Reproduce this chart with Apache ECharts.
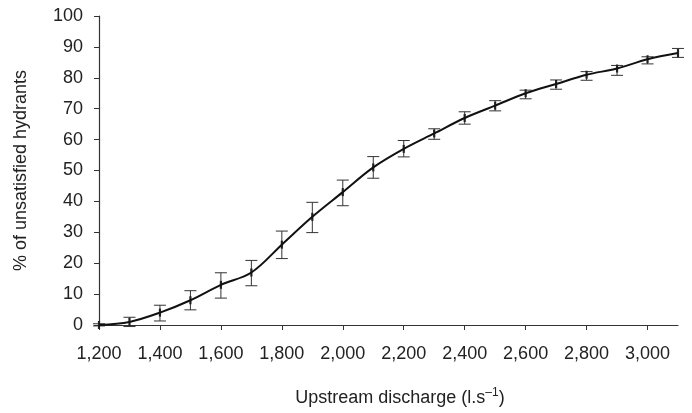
<!DOCTYPE html>
<html>
<head>
<meta charset="utf-8">
<script src="https://cdn.jsdelivr.net/npm/echarts@6/dist/echarts.min.js"></script>
<style>
  html, body { margin: 0; padding: 0; background: #fff; }
  #chart { width: 692px; height: 413px; }
</style>
</head>
<body>
<div id="chart"></div>
<script>
// discharge values (l/s)
const discharge = [1200, 1300, 1400, 1500, 1600, 1700, 1800, 1900, 2000, 2100,
    2200, 2300, 2400, 2500, 2600, 2700, 2800, 2900, 3000, 3100];
// mean % of unsatisfied hydrants
const meanPct = [0, 1, 4, 8, 13, 17, 26, 35, 43, 51,
    57, 62, 67, 71, 75, 78, 81, 83, 86, 88];
// error bar bounds
const lowPct = [-0.3, -0.5, 1.3, 4.9, 8.7, 12.7, 21.5, 29.9, 38.6, 47.5,
    54.4, 60.1, 65, 69.3, 73.2, 76.3, 79.2, 80.8, 84.5, 86.6];
const highPct = [0.4, 2.5, 6.4, 11.1, 16.9, 20.9, 30.4, 39.7, 46.9, 54.5,
    59.7, 63.5, 69, 72.6, 76, 79.3, 82, 84, 86.8, 89.5];
const xTicks = [1200, 1400, 1600, 1800, 2000, 2200, 2400, 2600, 2800, 3000];

const font = 'Liberation Sans, Arial, sans-serif';
const textColor = '#222';

const lineData = discharge.map((d, i) => [d, meanPct[i]]);
const errData = discharge.map((d, i) => [d, lowPct[i], highPct[i], meanPct[i]]);

const chart = echarts.init(document.getElementById('chart'));
chart.setOption({
    animation: false,
    grid: { left: 99, right: 14, top: 16, bottom: 88 },
    xAxis: {
        type: 'value',
        min: 1200,
        max: 3100,
        interval: 200,
        name: '{a|Upstream discharge (l.s}{s|–1}{a|)}',
        nameLocation: 'middle',
        nameGap: 62,
        nameTextStyle: {
            padding: [0, 0, 0, 23],
            rich: {
                a: { fontSize: 18, fontFamily: font, color: textColor, lineHeight: 22 },
                s: { fontSize: 12, fontFamily: font, color: textColor, lineHeight: 22, verticalAlign: 'top', padding: [0, 0, 8, 0] },
            },
        },
        axisLine: { lineStyle: { color: '#333', width: 1.2 } },
        axisTick: { customValues: xTicks, length: 5, lineStyle: { color: '#333' } },
        axisLabel: {
            customValues: xTicks,
            margin: 20,
            fontSize: 18,
            fontFamily: font,
            color: textColor,
            formatter: (v) => v.toLocaleString('en-US'),
        },
        splitLine: { show: false },
    },
    yAxis: {
        type: 'value',
        min: 0,
        max: 100,
        interval: 10,
        name: '% of unsatisfied hydrants',
        nameLocation: 'middle',
        nameGap: 69,
        nameTextStyle: { fontSize: 18, fontFamily: font, color: textColor },
        axisLine: { show: true, lineStyle: { color: '#333', width: 1.2 } },
        axisTick: { show: true, length: 5, lineStyle: { color: '#333' } },
        axisLabel: { margin: 16, fontSize: 18, fontFamily: font, color: textColor },
        splitLine: { show: false },
    },
    series: [
        {
            type: 'custom',
            data: errData,
            z: 3,
            renderItem: function (params, api) {
                const x = api.value(0);
                const top = api.coord([x, api.value(2)]);
                const bot = api.coord([x, api.value(1)]);
                const mid = api.coord([x, api.value(3)]);
                const w = 6;
                const st = { stroke: '#333', lineWidth: 1 };
                return {
                    type: 'group',
                    children: [
                        { type: 'line', shape: { x1: top[0], y1: top[1], x2: bot[0], y2: bot[1] }, style: st },
                        { type: 'line', shape: { x1: top[0] - w, y1: top[1], x2: top[0] + w, y2: top[1] }, style: st },
                        { type: 'line', shape: { x1: bot[0] - w, y1: bot[1], x2: bot[0] + w, y2: bot[1] }, style: st },
                        { type: 'line', shape: { x1: mid[0], y1: mid[1] - 4, x2: mid[0], y2: mid[1] + 4 }, style: { stroke: '#222', lineWidth: 2.2 } },
                    ],
                };
            },
        },
        {
            type: 'line',
            data: lineData,
            smooth: 0.35,
            showSymbol: false,
            z: 4,
            lineStyle: { color: '#111', width: 2 },
        },
    ],
});
</script>
</body>
</html>
